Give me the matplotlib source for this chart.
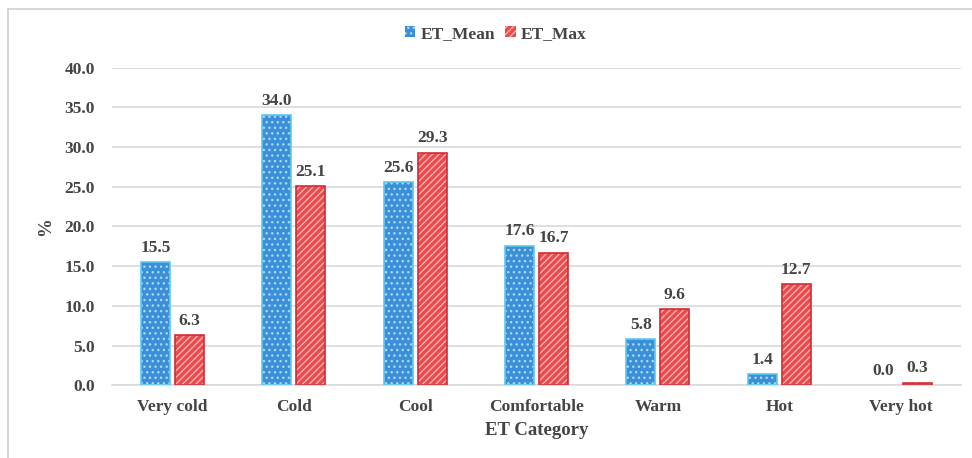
import numpy as np
import matplotlib.pyplot as plt
from matplotlib.patches import Rectangle
from matplotlib.lines import Line2D

categories = ['Very cold', 'Cold', 'Cool', 'Comfortable', 'Warm', 'Hot', 'Very hot']
et_mean = [15.5, 34.0, 25.6, 17.6, 5.8, 1.4, 0.0]
et_max = [6.3, 25.1, 29.3, 16.7, 9.6, 12.7, 0.3]
yticks = [0, 5, 10, 15, 20, 25, 30, 35, 40]

plt.rcParams['font.family'] = ['Liberation Serif', 'DejaVu Serif']
plt.rcParams['font.weight'] = 'bold'
plt.rcParams['axes.labelweight'] = 'bold'
plt.rcParams['hatch.linewidth'] = 1.0

blue = '#3a8fd8'
blue_edge = '#5cc8f0'
red = '#ea4a4c'
red_edge = '#d42a36'
text_col = '#444444'

fig = plt.figure(figsize=(9.72, 4.58), dpi=100)
ax = fig.add_axes([0.115, 0.159, 0.874, 0.693])

x = np.arange(len(categories))
w = 0.24
off = 0.14

# fill + white hatch, then coloured outline on top (no outline for empty bars)
mean_lw = [1.2 if v > 0 else 0 for v in et_mean]
max_lw = [1.2 if v > 0 else 0 for v in et_max]
ax.bar(x - off, et_mean, w, color=blue, edgecolor='#a8d8f5', hatch='...', linewidth=0, zorder=2)
ax.bar(x - off, et_mean, w, fill=False, edgecolor=blue_edge, linewidth=mean_lw, zorder=3)
ax.bar(x + off, et_max, w, color=red, edgecolor='#f8b0b0', hatch='/////', linewidth=0, zorder=2)
ax.bar(x + off, et_max, w, fill=False, edgecolor=red_edge, linewidth=max_lw, zorder=3)

for i in range(len(categories)):
    ax.text(x[i] - off, et_mean[i] + 0.8, f'{et_mean[i]:.1f}', ha='center', va='bottom',
            fontsize=12.5, color=text_col)
    ax.text(x[i] + off, et_max[i] + 0.8, f'{et_max[i]:.1f}', ha='center', va='bottom',
            fontsize=12.5, color=text_col)

ax.set_xlim(-0.5, len(categories) - 0.5)
ax.set_ylim(0, 40)
ax.set_yticks(yticks)
ax.set_yticklabels([f'{t:.1f}' for t in yticks])
ax.set_xticks(x)
ax.set_xticklabels(categories)
ax.tick_params(axis='both', length=0, labelsize=12.5, labelcolor=text_col)
ax.tick_params(axis='y', pad=12)
ax.tick_params(axis='x', pad=10)
ax.grid(axis='y', color='#d9d9d9', linewidth=1.2, zorder=0)
ax.set_axisbelow(True)
for s in ['top', 'right', 'left']:
    ax.spines[s].set_visible(False)
ax.spines['bottom'].set_color('#d9d9d9')
ax.spines['bottom'].set_linewidth(1.2)

ax.set_xlabel('ET Category', fontsize=13.5, color=text_col, labelpad=5)
ax.set_ylabel('%', fontsize=13.5, color=text_col, labelpad=8)

h1 = Rectangle((0, 0), 1, 1, facecolor=blue, edgecolor='#a8d8f5', hatch='...', linewidth=0)
h2 = Rectangle((0, 0), 1, 1, facecolor=red, edgecolor='#f8b0b0', hatch='/////', linewidth=0)
fig.legend([h1, h2], ['ET_Mean', 'ET_Max'], loc='center', bbox_to_anchor=(0.51, 0.926),
           ncol=2, frameon=False, fontsize=12.5, handlelength=0.6, handleheight=0.6,
           handletextpad=0.3, columnspacing=0.6, labelcolor=text_col)

# outer chart border (only left and top edges visible in the crop)
fig.add_artist(Line2D([0.008, 0.008], [0.0, 0.98], transform=fig.transFigure,
                      color='#d0d0d0', linewidth=1.2))
fig.add_artist(Line2D([0.008, 1.0], [0.98, 0.98], transform=fig.transFigure,
                      color='#d0d0d0', linewidth=1.2))

fig.savefig('out.png', dpi=100)
